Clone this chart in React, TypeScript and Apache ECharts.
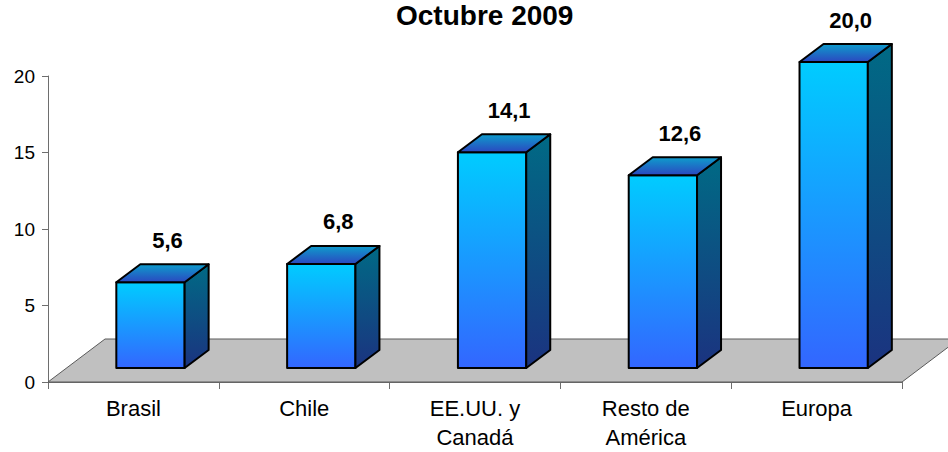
import React, { useEffect, useRef } from "react";
import * as echarts from "echarts";

const titleText = "Octubre 2009";
const categories = ["Brasil", "Chile", "EE.UU. y\nCanadá", "Resto de\nAmérica", "Europa"];
const values = [5.6, 6.8, 14.1, 12.6, 20.0];
const yMin = 0;
const yMax = 20;
const yInterval = 5;

const FONT = '"Liberation Sans", Arial, sans-serif';

export default function App() {
  const ref = useRef<HTMLDivElement>(null);
  useEffect(() => {
    if (!ref.current) return;
    const chart = echarts.init(ref.current, null, { renderer: "svg" });
    const grad = (a: string, b: string) =>
      new echarts.graphic.LinearGradient(0, 0, 0, 1, [
        { offset: 0, color: a },
        { offset: 1, color: b },
      ]);
    const option: any = {
      animation: false,
      title: {
        text: titleText,
        left: 396,
        top: 0,
        padding: 0,
        textStyle: { fontFamily: FONT, fontSize: 28, fontWeight: "bold", color: "#000", lineHeight: 30 },
      },
      grid: { left: 48, right: 46, top: 76, bottom: 69 },
      xAxis: {
        type: "category",
        data: categories,
        boundaryGap: true,
        axisLine: { show: true, lineStyle: { color: "#6e6e6e", width: 1 } },
        axisTick: { show: true, length: 7, alignWithLabel: false, lineStyle: { color: "#6e6e6e" } },
        axisLabel: {
          margin: 12,
          color: "#000",
          fontFamily: FONT,
          fontSize: 22,
          lineHeight: 29,
          interval: 0,
        },
        splitLine: { show: false },
      },
      yAxis: {
        type: "value",
        min: yMin,
        max: yMax,
        interval: yInterval,
        axisLine: { show: true, lineStyle: { color: "#6e6e6e", width: 1 } },
        axisTick: { show: true, length: 6, lineStyle: { color: "#6e6e6e" } },
        axisLabel: { margin: 13, color: "#000", fontFamily: FONT, fontSize: 19 },
        splitLine: { show: false },
      },
      series: [
        {
          type: "custom",
          z: 1,
          silent: true,
          data: [[0, 0]],
          renderItem: (params: any) => {
            const cs = params.coordSys;
            const x0 = cs.x;
            const x1 = cs.x + cs.width;
            const yb = cs.y + cs.height;
            const dx = 57;
            const dy = 43;
            return {
              type: "polygon",
              shape: {
                points: [
                  [x0, yb],
                  [x1, yb],
                  [x1 + dx, yb - dy],
                  [x0 + dx, yb - dy],
                ],
              },
              style: { fill: "#c0c0c0", stroke: "#5a5a5a", lineWidth: 1 },
            };
          },
        },
        {
          type: "custom",
          z: 3,
          silent: true,
          data: values.map((v, i) => [i, v]),
          encode: { x: 0, y: 1 },
          renderItem: (params: any, api: any) => {
            const i = api.value(0);
            const v = api.value(1);
            const base = api.coord([i, 0]);
            const top = api.coord([i, v]);
            const cw = api.size([1, 0])[0];
            const x0 = base[0] - 0.1 * cw;
            const x1 = base[0] + 0.3 * cw;
            const yb = base[1] - 14;
            const yt = top[1] - 14;
            const dx = 24;
            const dy = 18;
            const stroke = { stroke: "#000", lineWidth: 2, lineJoin: "round" };
            return {
              type: "group",
              children: [
                {
                  type: "polygon",
                  shape: { points: [[x0, yt], [x1, yt], [x1, yb], [x0, yb]] },
                  style: { fill: grad("#00ccff", "#3366ff"), ...stroke },
                },
                {
                  type: "polygon",
                  shape: { points: [[x1, yb], [x1 + dx, yb - dy], [x1 + dx, yt - dy], [x1, yt]] },
                  style: { fill: grad("#006a85", "#1b3380"), ...stroke },
                },
                {
                  type: "polygon",
                  shape: { points: [[x0, yt], [x1, yt], [x1 + dx, yt - dy], [x0 + dx, yt - dy]] },
                  style: { fill: grad("#0e9dcc", "#2b47c0"), ...stroke },
                },
                {
                  type: "text",
                  x: (x0 + x1) / 2 + 17,
                  y: top[1] - 56,
                  style: {
                    text: v.toFixed(1).replace(".", ","),
                    align: "center",
                    verticalAlign: "middle",
                    font: `bold 22px ${FONT}`,
                    fill: "#000",
                  },
                },
              ],
            };
          },
        },
      ],
    };
    chart.setOption(option);
    return () => chart.dispose();
  }, []);
  return (
    <div
      ref={ref}
      style={{ position: "fixed", left: 0, top: 0, width: 948, height: 452, background: "#fff" }}
    />
  );
}
